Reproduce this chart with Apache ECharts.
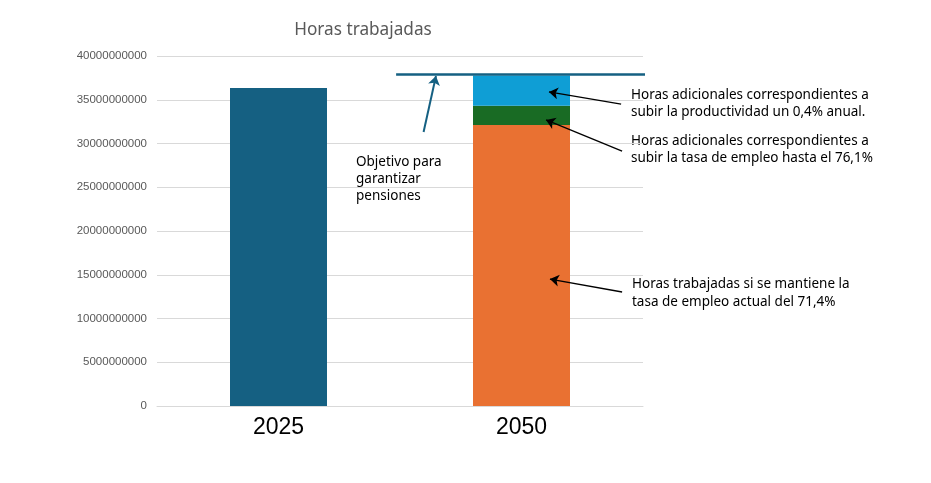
<!DOCTYPE html>
<html>
<head>
	<meta charset="utf-8">
	<title>Horas trabajadas</title>
	<script src="https://cdn.jsdelivr.net/npm/echarts@6/dist/echarts.min.js"></script>
	<style>
		html, body { margin: 0; padding: 0; background: #fff; }
		#box_1 { width: 931px; height: 483px; }
	</style>
</head>
<body>
	<div id="box_1"></div>
<script>
	// datos
	var years = ['2025', '2050']
	var horas2025 = [36.34e9, '-']
	var horasActual = ['-', 32.11e9]   // tasa de empleo actual 71,4%
	var horasEmpleo = ['-', 2.21e9]    // subir tasa de empleo a 76,1%
	var horasProd = ['-', 3.45e9]      // productividad +0,4% anual
	var objetivo = 37.86e9
	var yTicks = { min: 0, max: 40e9, step: 5e9 }

	// flechas en unidades de los ejes: [x (0..2 sobre las categorias), y]
	var objetivoLinea = [[0.984, objetivo], [2.01, objetivo]]
	var flechaObjetivo = [[1.097, 31.31e9], [1.148, 37.71e9]]
	var flechaProd = [[1.910, 34.51e9], [1.613, 35.89e9]]
	var flechaEmpleo = [[1.914, 29.14e9], [1.601, 32.69e9]]
	var flechaActual = [[1.914, 13.03e9], [1.617, 14.51e9]]

	var txtFont = '"Noto Sans", sans-serif'
	var myChart = echarts.init(document.getElementById('box_1'));

	function nota(left, top, text, lh) {
		return {
			type: 'text',
			left: left,
			top: top,
			style: {
				text: text,
				fill: '#000',
				font: '13.5px ' + txtFont,
				lineHeight: lh
			}
		}
	}

	var option = {
		animation: false,
		title: {
			text: 'Horas trabajadas',
			left: 358,
			top: 17,
			textAlign: 'center',
			textStyle: {
				color: '#595959',
				fontFamily: txtFont,
				fontSize: 17.2,
				fontWeight: 'normal'
			}
		},
		grid: {
			left: 157,
			right: 288,
			top: 56,
			bottom: 77
		},
		xAxis: [{
			type: 'category',
			data: years,
			axisTick: { show: false },
			axisLine: {
				show: true,
				lineStyle: { color: '#d9d9d9' }
			},
			axisLabel: {
				color: '#000',
				fontFamily: '"Liberation Sans", Arial, sans-serif',
				fontSize: 23,
				margin: 10
			}
		}, {
			type: 'value',
			min: 0,
			max: 2,
			show: false
		}],
		yAxis: {
			type: 'value',
			min: yTicks.min,
			max: yTicks.max,
			interval: yTicks.step,
			axisLine: { show: false },
			axisTick: { show: false },
			axisLabel: {
				color: '#595959',
				fontFamily: '"Liberation Sans", Arial, sans-serif',
				fontSize: 11.5,
				margin: 10,
				formatter: function (v) { return String(v) }
			},
			splitLine: {
				lineStyle: { color: '#d9d9d9' }
			}
		},
		series: [
			{
				name: '2025',
				type: 'bar',
				stack: 'total',
				barWidth: 97,
				data: horas2025,
				itemStyle: { color: '#156082' }
			},
			{
				name: 'Tasa de empleo actual',
				type: 'bar',
				stack: 'total',
				barWidth: 97,
				data: horasActual,
				itemStyle: { color: '#e97132' }
			},
			{
				name: 'Tasa de empleo 76,1%',
				type: 'bar',
				stack: 'total',
				barWidth: 97,
				data: horasEmpleo,
				itemStyle: { color: '#196b24' }
			},
			{
				name: 'Productividad',
				type: 'bar',
				stack: 'total',
				barWidth: 97,
				data: horasProd,
				itemStyle: { color: '#0f9ed5' }
			},
			{
				name: 'Objetivo',
				type: 'lines',
				coordinateSystem: 'cartesian2d',
				xAxisIndex: 1,
				yAxisIndex: 0,
				symbol: ['none', 'none'],
				lineStyle: { color: '#156082', width: 2.5, opacity: 1 },
				data: [{ coords: objetivoLinea }],
				z: 5
			},
			{
				type: 'lines',
				coordinateSystem: 'cartesian2d',
				xAxisIndex: 1,
				yAxisIndex: 0,
				symbol: ['none', 'arrow'],
				symbolSize: 9,
				lineStyle: { color: '#156082', width: 2, opacity: 1 },
				data: [{ coords: flechaObjetivo }],
				z: 5
			},
			{
				type: 'lines',
				coordinateSystem: 'cartesian2d',
				xAxisIndex: 1,
				yAxisIndex: 0,
				symbol: ['none', 'arrow'],
				symbolSize: 9,
				lineStyle: { color: '#000', width: 1.3, opacity: 1 },
				data: [
					{ coords: flechaProd },
					{ coords: flechaEmpleo },
					{ coords: flechaActual }
				],
				z: 5
			}
		],
		graphic: [
			nota(356, 154, 'Objetivo para\ngarantizar\npensiones', 16.8),
			nota(631, 87, 'Horas adicionales correspondientes a\nsubir la productividad un 0,4% anual.', 16.7),
			nota(631, 133, 'Horas adicionales correspondientes a\nsubir la tasa de empleo hasta el 76,1%', 16.5),
			nota(632, 275, 'Horas trabajadas si se mantiene la\ntasa de empleo actual del 71,4%', 18)
		]
	}
	myChart.setOption(option);
</script>
</body>
</html>
